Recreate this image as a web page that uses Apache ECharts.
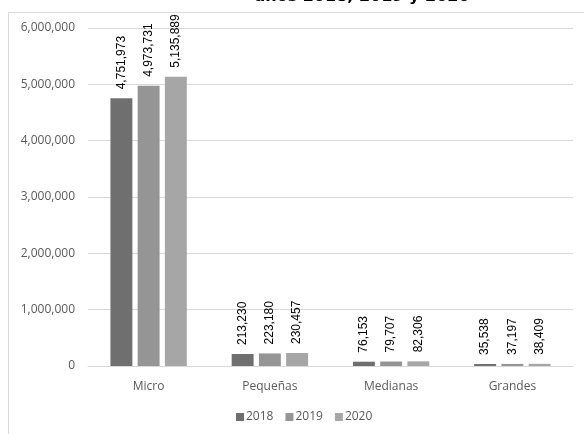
<!DOCTYPE html>
<html>
<head>
<meta charset="utf-8">
<script src="https://cdn.jsdelivr.net/npm/echarts@6/dist/echarts.min.js"></script>
<style>html,body{margin:0;padding:0;background:#fff}#c{width:584px;height:434px}</style>
</head>
<body>
<div id="c"></div>
<script>
const categories = ['Micro', 'Pequeñas', 'Medianas', 'Grandes'];
const years = ['2018', '2019', '2020'];
const values2018 = [4751973, 213230, 76153, 35538];
const values2019 = [4973731, 223180, 79707, 37197];
const values2020 = [5135889, 230457, 82306, 38409];
const yTicks = [0, 1000000, 2000000, 3000000, 4000000, 5000000, 6000000];
const titleText = 'años 2018, 2019 y 2020';

const colors = ['#6f6f6f', '#959595', '#a6a6a6'];
const fmt = v => Number(v).toLocaleString('en-US');

const chart = echarts.init(document.getElementById('c'), null, {renderer: 'canvas'});
const seriesData = [values2018, values2019, values2020];
chart.setOption({
  animation: false,
  title: {
    text: titleText,
    left: 357,
    top: -16,
    textAlign: 'center',
    textStyle: {fontFamily: 'DejaVu Sans', fontWeight: 'bold', fontSize: 16, color: '#000'}
  },
  graphic: [{
    type: 'rect',
    shape: {x: 8.5, y: 12.5, width: 700, height: 600},
    style: {fill: 'none', stroke: '#d9d9d9', lineWidth: 1},
    silent: true,
    z: -1
  }],
  legend: {
    data: years,
    left: 231,
    top: 406,
    itemWidth: 8,
    itemHeight: 8,
    itemGap: 12,
    icon: 'rect',
    textStyle: {fontFamily: 'Open Sans', fontSize: 12, color: '#595959', padding: [0, 0, 0, -3]}
  },
  grid: {left: 88, right: 11, top: 28, bottom: 68, containLabel: false},
  xAxis: {
    type: 'category',
    data: categories,
    axisLine: {lineStyle: {color: '#d9d9d9', width: 1}},
    axisTick: {show: false},
    axisLabel: {fontFamily: 'Open Sans', fontSize: 12, color: '#595959', margin: 15}
  },
  yAxis: {
    type: 'value',
    min: yTicks[0],
    max: yTicks[yTicks.length - 1],
    interval: yTicks[1] - yTicks[0],
    axisLine: {show: false},
    axisTick: {show: false},
    splitLine: {lineStyle: {color: '#d9d9d9', width: 1}},
    axisLabel: {fontFamily: 'Open Sans', fontSize: 12, color: '#595959', margin: 13, formatter: fmt}
  },
  series: years.map((y, i) => ({
    name: y,
    type: 'bar',
    data: seriesData[i],
    barGap: '24%',
    barCategoryGap: '37%',
    itemStyle: {color: colors[i]},
    label: {
      show: true,
      position: 'top',
      rotate: 90,
      align: 'left',
      verticalAlign: 'middle',
      distance: 9,
      fontFamily: 'Liberation Sans',
      fontSize: 12,
      color: '#000',
      formatter: p => fmt(p.value)
    }
  }))
});
</script>
</body>
</html>
